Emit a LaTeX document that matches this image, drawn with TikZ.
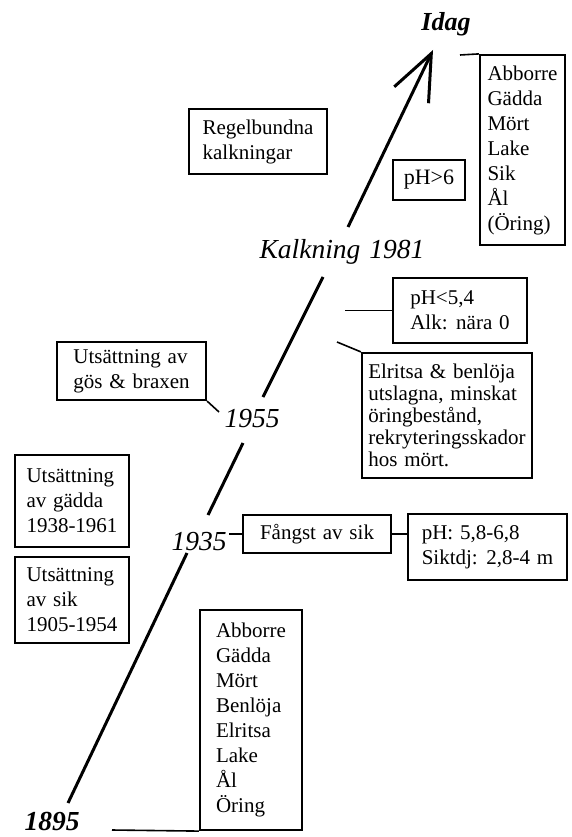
\documentclass[tikz,border=0pt]{standalone}
\usepackage{fontspec}
\setmainfont{Liberation Serif}[WordSpace=1.3]
\usetikzlibrary{arrows.meta}

\begin{document}
\begin{tikzpicture}[x=1pt,y=-1pt,
  box/.style={draw, line width=2.2pt, align=left, inner sep=0pt,
              font=\fontsize{21}{25}\selectfont},
  year/.style={inner sep=0pt, anchor=base,
               font=\fontsize{27.5}{30}\selectfont\itshape},
  yearb/.style={inner sep=0pt, anchor=base,
                font=\fontsize{27.5}{30}\selectfont\bfseries\itshape},
  link/.style={line width=1.6pt},
  axis/.style={line width=3pt}
]
\useasboundingbox (0,0) rectangle (572,837);

% time axis, broken at the year labels
\coordinate (a0) at (68,803);
\coordinate (a1) at (187,553);
\coordinate (a2) at (208,515);
\coordinate (a3) at (243,443);
\coordinate (a4) at (263,397);
\coordinate (a5) at (323,277);
\coordinate (a6) at (348,227);
\coordinate (tip) at (433,50);
\draw[axis] (a0) -- (a1);
\draw[axis] (a2) -- (a3);
\draw[axis] (a4) -- (a5);
\draw[axis, -{Straight Barb[length=46pt,width=38pt]}] (a6) -- (tip);

% year labels
\node[yearb, font=\fontsize{26}{28}\selectfont\bfseries\itshape] (idag) at (446,31) {Idag};
\node[year] (y81) at (342,258) {Kalkning 1981};
\node[year] (y55) at (252,427) {1955};
\node[year] (y35) at (199,550) {1935};
\node[yearb] (y95) at (52,830) {1895};

% boxes
\node[box, minimum width=138pt, minimum height=65pt] (regel) at (258,141.5)
  {Regelbundna\\kalkningar};
\node[box, minimum width=72pt, minimum height=40pt, align=center,
      font=\fontsize{22}{25}\selectfont] (ph6) at (429,180)
  {pH>6};
\node[box, minimum width=85pt, minimum height=190pt] (fishA) at (522.5,150)
  {Abborre\\Gädda\\Mört\\Lake\\Sik\\Ål\\(Öring)};
\node[box, minimum width=134pt, minimum height=65pt] (ph54) at (460,310.5)
  {pH<5,4\\Alk: nära 0};
\node[box, minimum width=170pt, minimum height=125pt,
      font=\fontsize{21}{22}\selectfont] (elr) at (447,415.5)
  {Elritsa \& benlöja\\utslagna, minskat\\öringbestånd,\\rekryteringsskador\\hos mört.};
\node[box, minimum width=149pt, minimum height=58pt] (gos) at (131.5,371)
  {Utsättning av\\gös \& braxen};
\node[box, minimum width=114pt, minimum height=92pt] (gadda) at (72,501)
  {Utsättning\\av gädda\\1938-1961};
\node[box, minimum width=114pt, minimum height=86pt] (siks) at (72,600)
  {Utsättning\\av sik\\1905-1954};
\node[box, minimum width=148pt, minimum height=38pt, align=center] (fangst) at (317,534)
  {Fångst av sik};
\node[box, minimum width=159pt, minimum height=66pt] (phsikt) at (487.5,547)
  {pH: 5,8-6,8\\Siktdj: 2,8-4 m};
\node[box, minimum width=102pt, minimum height=220pt] (fishB) at (251,720)
  {Abborre\\Gädda\\Mört\\Benlöja\\Elritsa\\Lake\\Ål\\Öring};

% connectors
\coordinate (cIdag) at (460,55);
\draw[link] (cIdag) -- (fishA.north west);
\coordinate (c54) at (345,310.5);
\draw[link] (c54) -- (ph54.west);
\coordinate (cElr) at (337,342);
\draw[link] (cElr) -- (elr.north west);
\coordinate (c55) at (219,412);
\draw[link] (gos.south east) -- (c55);
\draw[link, shorten >=2pt] (fangst.west) -- (fangst.west -| y35.east);
\draw[link] (fangst.east) -- (fangst.east -| phsikt.west);
\coordinate (c95) at (112,830);
\draw[link] (c95) -- (fishB.south west);
\end{tikzpicture}
\end{document}
